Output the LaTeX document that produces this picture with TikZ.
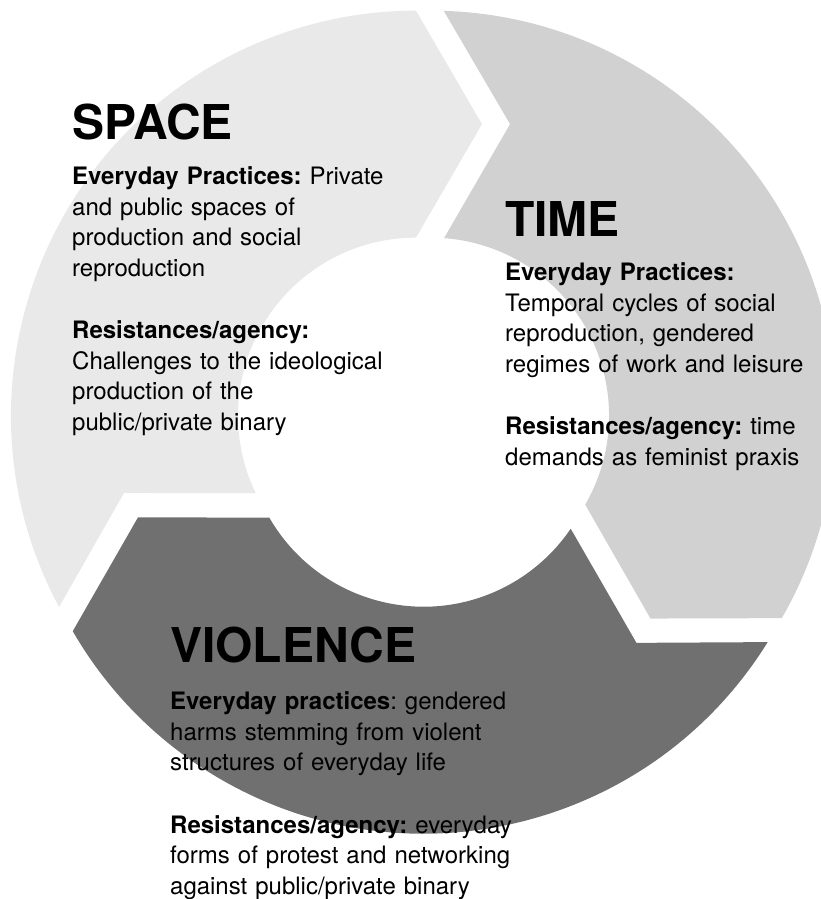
\documentclass[tikz,border=0pt]{standalone}
\usepackage{fontspec}
\setmainfont{TeX Gyre Heros}
\definecolor{spacegray}{RGB}{233,233,233}
\definecolor{timegray}{RGB}{209,209,209}
\definecolor{violgray}{RGB}{112,112,112}

\begin{document}
\frenchspacing
\begin{tikzpicture}[x=1pt, y=1pt,
	headtext/.style={anchor=base west, inner sep=0pt, font=\fontsize{48}{56}\selectfont\bfseries},
	bodytext/.style={anchor=base west, inner sep=0pt, text width=420pt, align=left, font=\fontsize{24}{30.5}\selectfont}]
	\useasboundingbox (0,0) rectangle (820,899);

	% the three arrows of the cycle
	\begin{scope}[shift={(423.5,479)}]
		\begin{scope}[shift={(150:8.7)}, rotate=0]
			\fill[spacegray] (208.2:405) arc[start angle=208.2, end angle=90, radius=405] -- (66,291.5) -- (90:178)
				arc[start angle=90, end angle=205.8, radius=178] -- (-291.95,-77.33) -- cycle;
		\end{scope}
		\begin{scope}[shift={(30:8.7)}, rotate=-120]
			\fill[timegray] (208.2:405) arc[start angle=208.2, end angle=90, radius=405] -- (66,291.5) -- (90:178)
				arc[start angle=90, end angle=205.8, radius=178] -- (-291.95,-77.33) -- cycle;
		\end{scope}
		\begin{scope}[shift={(-90:8.7)}, rotate=-240]
			\fill[violgray] (208.2:405) arc[start angle=208.2, end angle=90, radius=405] -- (66,291.5) -- (90:178)
				arc[start angle=90, end angle=205.8, radius=178] -- (-291.95,-77.33) -- cycle;
		\end{scope}
	\end{scope}

	\node[headtext] (spacetitle) at (72,759) {SPACE};
	\node[bodytext] (spacetext) at (72,714) {\textbf{Everyday Practices:} Private\\
		and public spaces of\\ production and social\\ reproduction\\[32pt]
		\textbf{Resistances/agency:}\\ Challenges to the ideological\\ production of the\\ public/private binary};

	\node[headtext] (timetitle) at (505,662) {TIME};
	\node[bodytext] (timetext) at (505,618) {\textbf{Everyday Practices:}\\
		Temporal cycles of social\\ reproduction, gendered\\ regimes of work and leisure\\[32pt]
		\textbf{Resistances/agency:} time\\ demands as feminist praxis};

	\node[headtext] (violtitle) at (170,236) {VIOLENCE};
	\node[bodytext] (violtext) at (170,189) {\textbf{Everyday practices}: gendered\\
		harms stemming from violent\\ structures of everyday life\\[32pt]
		\textbf{Resistances/agency:} everyday\\ forms of protest and networking\\ against public/private binary};

\end{tikzpicture}
\end{document}
